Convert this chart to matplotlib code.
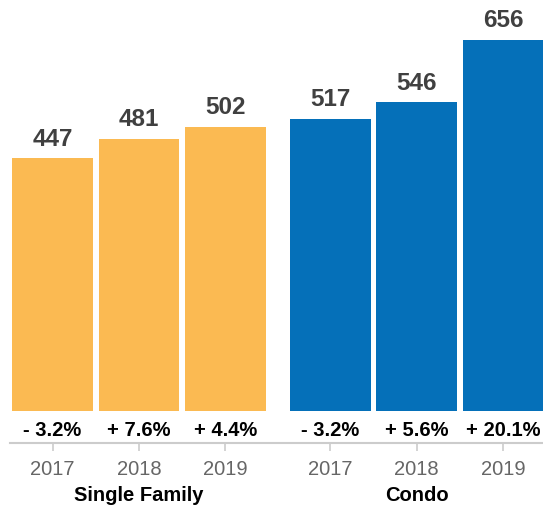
import numpy as np
import matplotlib.pyplot as plt

plt.rcParams['font.family'] = ['Liberation Sans', 'DejaVu Sans']

years = ['2017', '2018', '2019']
groups = ['Single Family', 'Condo']
single_family = [447, 481, 502]
condo = [517, 546, 656]
sf_change = ['- 3.2%', '+ 7.6%', '+ 4.4%']
condo_change = ['- 3.2%', '+ 5.6%', '+ 20.1%']

colors = ['#FBBA52', '#0570B9']
group_gap = 0.21
bar_w = 0.936

fig = plt.figure(figsize=(5.43, 5.09), dpi=100)
# axes bottom sits on the gray baseline under the percentage row
ax = fig.add_axes([0, (509 - 443) / 509, 1, 443 / 509])

y_axis = -56.5
all_pos = []
for g, (vals, chg) in enumerate([(single_family, sf_change), (condo, condo_change)]):
    pos = np.arange(len(vals)) + g * (len(vals) + group_gap)
    all_pos.extend(pos)
    ax.bar(pos, vals, width=bar_w, color=colors[g], linewidth=0)
    for x, v, c in zip(pos, vals, chg):
        ax.annotate(str(v), (x, v), xytext=(0, 5.5), textcoords='offset points',
                    ha='center', va='bottom', fontsize=17.5, fontweight='bold',
                    color='#404040')
        ax.text(x, -34, c, ha='center', va='center', fontsize=14.5,
                fontweight='bold', color='black')
    ax.text(pos[1], -150, groups[g], ha='center', va='center', fontsize=14.5,
            fontweight='bold', color='black', clip_on=False)

ax.set_xlim(-0.607, 5.671)
ax.set_ylim(y_axis, 726.8)

for s in ax.spines.values():
    s.set_visible(False)
ax.axhline(y_axis, xmin=10 / 543, xmax=1, color='#cccccc', linewidth=1.5,
           clip_on=False)

ax.set_xticks(all_pos)
ax.set_xticklabels(years * 2, fontsize=14.5, color='#666666')
ax.tick_params(axis='x', length=6, width=1.2, color='#cccccc', pad=6)
ax.set_yticks([])

fig.savefig('out.png', dpi=100)
